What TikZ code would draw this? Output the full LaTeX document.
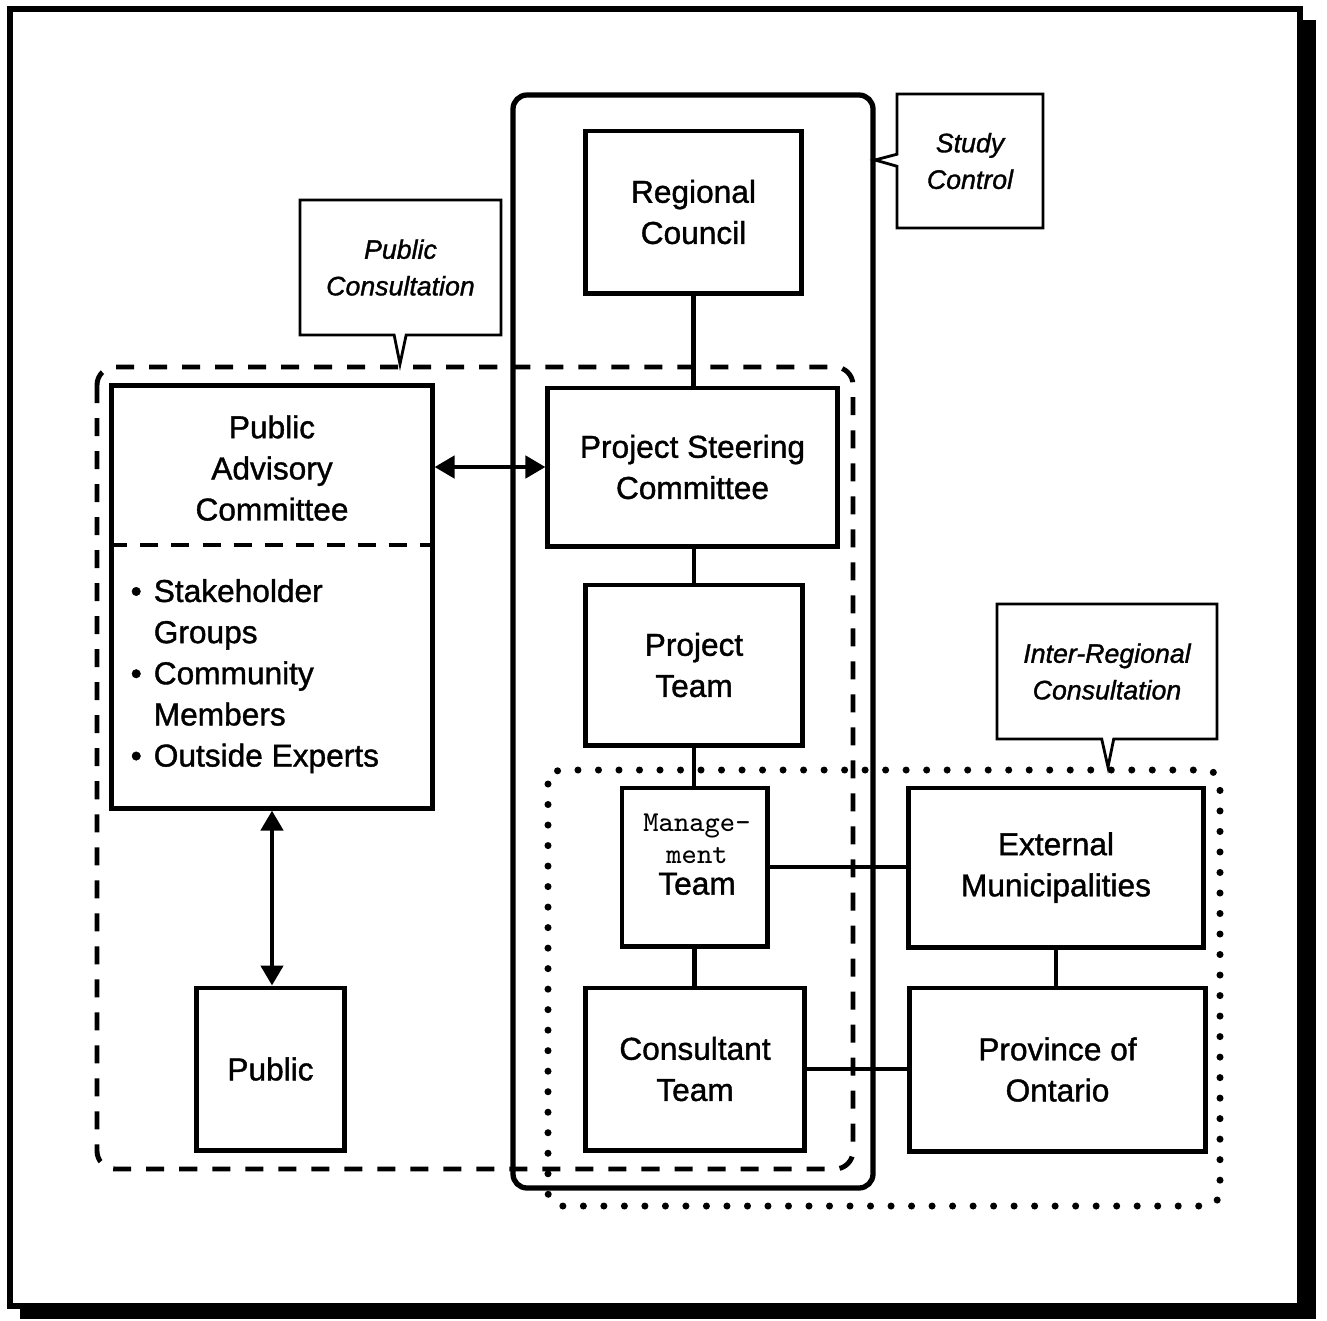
\documentclass[tikz,border=0pt]{standalone}
\usepackage{fontspec}
\setmainfont{Liberation Sans}[FakeBold=1.2]
\usetikzlibrary{arrows.meta,shapes.callouts,calc}
\begin{document}
\begin{tikzpicture}[x=0.01cm,y=-0.01cm,
  box/.style={draw,line width=1.4pt,inner sep=0pt,align=center,font=\fontsize{9}{11.7}\selectfont},
  conn/.style={line width=1.2pt},
  dconn/.style={line width=1.3pt,{Triangle[length=0.2cm,width=0.22cm]}-{Triangle[length=0.2cm,width=0.22cm]}},
  note/.style={rectangle callout,draw,line width=0.8pt,inner sep=0pt,align=center,callout pointer width=0.12cm,font=\fontsize{7.6}{10.4}\selectfont\itshape},
  txt/.style={inner sep=0pt,align=center,font=\fontsize{9}{11.7}\selectfont},
]
\useasboundingbox (0,0) rectangle (1327,1320);

% outer frame with shadow
\draw[line width=1.7pt] (10,9) rectangle (1300,1306);
\fill (1300,20) rectangle (1316,1319);
\fill (20,1306) rectangle (1316,1319);

% containers
\draw[line width=1.5pt,rounded corners=0.14cm] (513,95) rectangle (873,1188);
\draw[line width=1.4pt,rounded corners=0.18cm,dash pattern=on 0.18cm off 0.15cm] (97,367) rectangle (853,1169);
\draw[line width=2pt,line cap=round,dash pattern=on 0pt off 0.205cm,rounded corners=0.14cm] (548,770) rectangle (1220,1206);

% callouts
\node[note,minimum width=1.46cm,minimum height=1.34cm,callout absolute pointer={(875,160)}] (sc) at (970,161) {Study\\Control};
\node[note,minimum width=2.01cm,minimum height=1.35cm,callout absolute pointer={(400,364)}] (pcn) at (400.5,267.5) {Public\\Consultation};
\node[note,minimum width=2.20cm,minimum height=1.35cm,callout absolute pointer={(1108,767)}] (irc) at (1107,671.5) {Inter-Regional\\Consultation};

% boxes
\node[box,minimum width=2.15cm,minimum height=1.62cm] (rc) at (693.5,212) {Regional\\Council};
\node[box,minimum width=2.89cm,minimum height=1.58cm] (psc) at (692.5,467) {Project Steering\\Committee};
\node[box,minimum width=2.16cm,minimum height=1.60cm] (pt) at (694,665) {Project\\Team};
\node[box,minimum width=1.45cm,minimum height=1.58cm] (mt) at (694.5,867) {};
\node[inner sep=0pt] (mtt) at (697,857) {\fontsize{9}{8.9}\selectfont\begin{tabular}{@{}c@{}}\ttfamily\fontsize{8.2}{8.9}\selectfont Manage-\\\ttfamily\fontsize{8.2}{8.9}\selectfont ment\\Team\end{tabular}};
\node[box,minimum width=2.18cm,minimum height=1.62cm] (ct) at (695,1069) {Consultant\\Team};
\node[box,minimum width=2.94cm,minimum height=1.59cm] (em) at (1056,867.5) {External\\Municipalities};
\node[box,minimum width=2.95cm,minimum height=1.63cm] (po) at (1057.5,1069.5) {Province of\\Ontario};
\node[box,minimum width=3.20cm,minimum height=4.22cm] (pac) at (272,597) {};
\node[txt] (pact) at (272,468) {Public\\Advisory\\Committee};
\coordinate (divy) at (0,545);
\draw[line width=1.2pt,dash pattern=on 0.18cm off 0.13cm] (pac.west |- divy) -- (pac.east |- divy);
\node[anchor=west,inner sep=0pt,font=\fontsize{9}{11.7}\selectfont] (bul) at (130,676) {\begin{tabular}{@{}l@{\hspace{0.12cm}}l@{}}•&Stakeholder\\&Groups\\•&Community\\&Members\\•&Outside Experts\end{tabular}};
\node[box,minimum width=1.47cm,minimum height=1.62cm] (pub) at (270.5,1069) {Public};

% connectors
\draw[conn] (rc.south) -- (rc.south |- psc.north);
\draw[conn] (pt.north |- psc.south) -- (pt.north);
\draw[conn] (pt.south) -- (pt.south |- mt.north);
\draw[conn] (mt.south) -- (mt.south |- ct.north);
\draw[conn] (mt.east) -- (mt.east -| em.west);
\draw[conn] (ct.east) -- (ct.east -| po.west);
\draw[conn] (em.south) -- (em.south |- po.north);
\draw[dconn] (pac.east |- psc.west) -- (psc.west);
\draw[dconn] (pac.south) -- (pac.south |- pub.north);
\end{tikzpicture}
\end{document}
